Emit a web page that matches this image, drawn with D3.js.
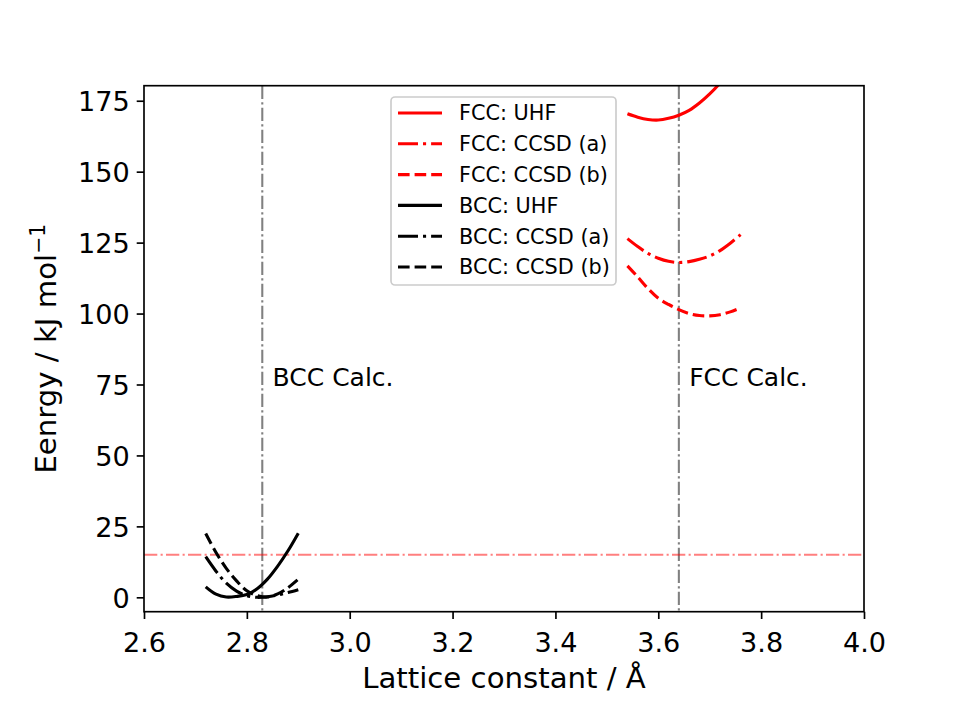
<!DOCTYPE html>
<html>
<head>
<meta charset="utf-8">
<script src="https://cdn.jsdelivr.net/npm/d3@7"></script>
<style>
    body { margin: 0; background: #ffffff; }
    text { font-family: "DejaVu Sans", sans-serif; fill: #000000; }
</style>
</head>
<body>
<div id="canvas"></div>
<script>
"use strict"

/* ************ data ************ */
let bccLattice = [2.72, 2.74, 2.76, 2.78, 2.80, 2.82, 2.84, 2.86, 2.88, 2.90];
let bccUhf     = [3.7, 1.1, 0.1, 0.3, 1.0, 3.0, 6.4, 11.0, 16.4, 22.6];
let bccCcsdA   = [14.3, 9.2, 5.0, 2.2, 0.6, 0.0, 0.2, 0.8, 1.7, 2.7];
let bccCcsdB   = [22.5, 15.8, 10.2, 5.8, 2.3, 0.6, 0.1, 1.2, 3.4, 6.4];

let fccLattice = [3.54, 3.56, 3.58, 3.60, 3.62, 3.64, 3.66, 3.68, 3.70, 3.72, 3.74, 3.76];
let fccUhf     = [170.4, 169.2, 168.4, 168.2, 168.8, 169.9, 171.6, 174.2, 177.4, 181.2, 185.5, 190.3];
let fccCcsdA   = [126.4, 123.6, 121.2, 119.5, 118.4, 118.0, 118.3, 119.1, 120.3, 122.2, 124.8, 127.8];
let fccCcsdB   = [116.8, 112.9, 108.8, 105.4, 103.2, 101.4, 100.0, 99.3, 99.2, 99.6, 100.6, 102.0];

let calcLattice = [2.83, 3.64];
let calcLabels  = ["BCC Calc.", "FCC Calc."];
let refEnergy   = 15;

let xTicks = [2.6, 2.8, 3.0, 3.2, 3.4, 3.6, 3.8, 4.0];
let yTicks = [0, 25, 50, 75, 100, 125, 150, 175];

let seriesNames = ["FCC: UHF", "FCC: CCSD (a)", "FCC: CCSD (b)",
                   "BCC: UHF", "BCC: CCSD (a)", "BCC: CCSD (b)"];

/* ************ canvas and scales ************ */
let W = 960, H = 720;
let plotLeft = 144, plotRight = 864, plotTop = 85.7, plotBottom = 611.7;

let drawing = d3.select("#canvas")
    .append("svg")
    .attr("width", W)
    .attr("height", H);

let x = d3.scaleLinear().domain([2.6, 4.0]).range([plotLeft, plotRight]);
let y = d3.scaleLinear().domain([-5.07, 180.3]).range([plotBottom, plotTop]);

drawing.append("clipPath")
    .attr("id", "plotclip")
    .append("rect")
    .attr("x", plotLeft)
    .attr("y", plotTop)
    .attr("width", plotRight - plotLeft)
    .attr("height", plotBottom - plotTop);

let plot = drawing.append("g").attr("clip-path", "url(#plotclip)");

// dash patterns as matplotlib draws them at 150 dpi, lw 1.5
let dashDot = "20,5,3.1,5";
let dashed = "11.6,5";

let series = [
    {lat: fccLattice, e: fccUhf,   color: "#ff0000", dash: null},
    {lat: fccLattice, e: fccCcsdA, color: "#ff0000", dash: dashDot},
    {lat: fccLattice, e: fccCcsdB, color: "#ff0000", dash: dashed},
    {lat: bccLattice, e: bccUhf,   color: "#000000", dash: null},
    {lat: bccLattice, e: bccCcsdA, color: "#000000", dash: dashDot},
    {lat: bccLattice, e: bccCcsdB, color: "#000000", dash: dashed}
];

/* ************ reference lines ************ */
plot.selectAll(".calc")
    .data(calcLattice)
    .enter()
    .append("line")
    .attr("x1", d => x(d))
    .attr("x2", d => x(d))
    .attr("y1", plotTop)
    .attr("y2", plotBottom)
    .attr("stroke", "#808080")
    .attr("stroke-width", 2.08)
    .attr("stroke-dasharray", "13.3,3.3,2.1,3.3");

plot.append("line")
    .attr("x1", plotLeft)
    .attr("x2", plotRight)
    .attr("y1", y(refEnergy))
    .attr("y2", y(refEnergy))
    .attr("stroke", "#ff0000")
    .attr("stroke-opacity", 0.5)
    .attr("stroke-width", 2.08)
    .attr("stroke-dasharray", "13.3,3.3,2.1,3.3");

/* ************ curves ************ */
let line = d3.line()
    .x(d => x(d[0]))
    .y(d => y(d[1]))
    .curve(d3.curveCatmullRom.alpha(0.5));

series.forEach(function (s) {
    plot.append("path")
        .datum(d3.zip(s.lat, s.e))
        .attr("d", line)
        .attr("fill", "none")
        .attr("stroke", s.color)
        .attr("stroke-width", 3.1)
        .attr("stroke-dasharray", s.dash);
});

/* ************ annotations ************ */
drawing.selectAll(".calcLabel")
    .data(calcLabels)
    .enter()
    .append("text")
    .attr("x", (d, i) => x(calcLattice[i] + 0.02))
    .attr("y", y(74.5))
    .attr("font-size", 25)
    .text(d => d);

/* ************ axes ************ */
let xAxis = drawing.append("g")
    .attr("transform", `translate(0,${plotBottom})`)
    .call(d3.axisBottom(x).tickValues(xTicks).tickFormat(d3.format(".1f"))
        .tickSizeInner(7.3).tickSizeOuter(0).tickPadding(7));

let yAxis = drawing.append("g")
    .attr("transform", `translate(${plotLeft},0)`)
    .call(d3.axisLeft(y).tickValues(yTicks).tickFormat(d3.format("d"))
        .tickSizeInner(7.3).tickSizeOuter(0).tickPadding(7));

[xAxis, yAxis].forEach(function (a) {
    a.select(".domain").remove();
    a.selectAll(".tick line").attr("stroke", "#000000").attr("stroke-width", 1.67);
    a.selectAll(".tick text").attr("font-size", 27.1).attr("font-family", "DejaVu Sans");
});
xAxis.selectAll(".tick text").attr("dy", "0.95em");
yAxis.selectAll(".tick text").attr("dy", "0.36em");

drawing.append("rect")
    .attr("x", plotLeft)
    .attr("y", plotTop)
    .attr("width", plotRight - plotLeft)
    .attr("height", plotBottom - plotTop)
    .attr("fill", "none")
    .attr("stroke", "#000000")
    .attr("stroke-width", 1.67);

drawing.append("text")
    .attr("x", (plotLeft + plotRight) / 2)
    .attr("y", 688)
    .attr("text-anchor", "middle")
    .attr("font-size", 29.2)
    .text("Lattice constant / Å");

let ylab = drawing.append("text")
    .attr("transform", `translate(56,${(plotTop + plotBottom) / 2}) rotate(-90)`)
    .attr("text-anchor", "middle")
    .attr("font-size", 29.2);
ylab.append("tspan").text("Eenrgy / kJ mol");
ylab.append("tspan")
    .attr("dy", -11)
    .attr("font-size", 20.4)
    .text("\u22121");

/* ************ legend ************ */
let legend = drawing.append("g");

legend.append("rect")
    .attr("x", 391)
    .attr("y", 97)
    .attr("width", 225)
    .attr("height", 188)
    .attr("rx", 4)
    .attr("fill", "#ffffff")
    .attr("fill-opacity", 0.8)
    .attr("stroke", "#cccccc")
    .attr("stroke-width", 1.67);

let rowY = d3.scaleLinear().domain([0, 5]).range([113, 267]);

series.forEach(function (s, i) {
    legend.append("line")
        .attr("x1", 398)
        .attr("x2", 442)
        .attr("y1", rowY(i))
        .attr("y2", rowY(i))
        .attr("stroke", s.color)
        .attr("stroke-width", 3.1)
        .attr("stroke-dasharray", s.dash);
    legend.append("text")
        .attr("x", 459)
        .attr("y", rowY(i))
        .attr("dy", "0.36em")
        .attr("font-size", 20.8)
        .text(seriesNames[i]);
});
</script>
</body>
</html>
